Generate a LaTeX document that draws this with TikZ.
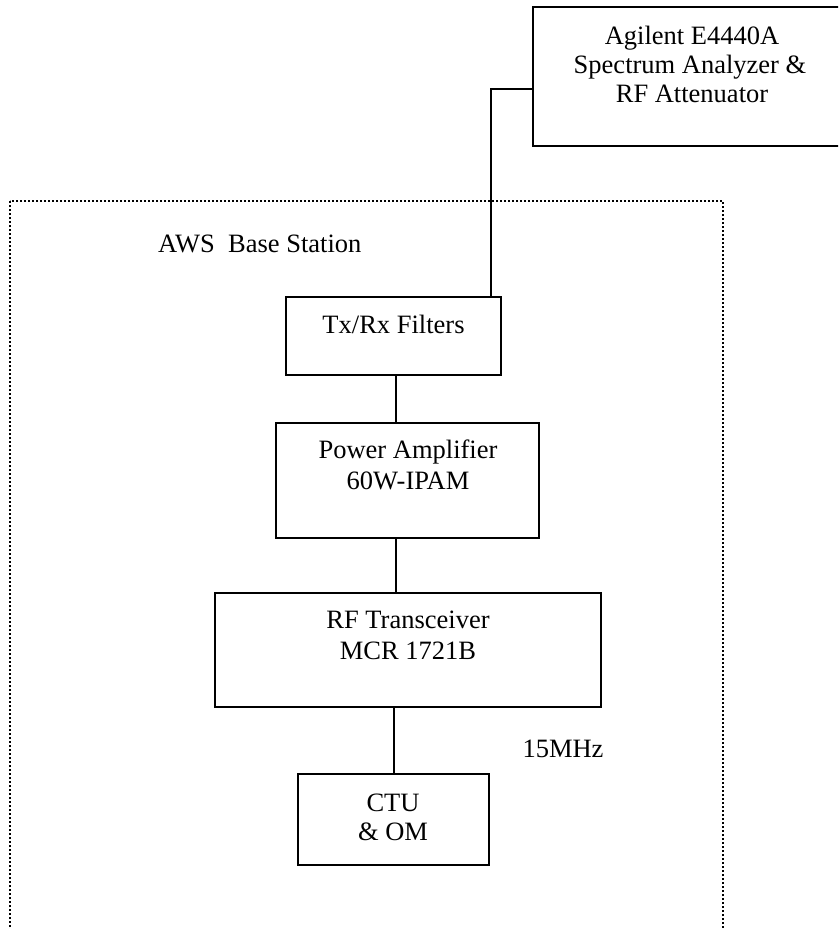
\documentclass[tikz,border=0pt]{standalone}
\usepackage{fontspec}
\setmainfont{Liberation Serif}
\begin{document}
\begin{tikzpicture}[x=1pt,y=-1pt,
  box/.style={draw, rectangle, inner sep=0pt, line width=1.8pt},
  wire/.style={line width=1.8pt},
  frame/.style={line width=1.6pt, dash pattern=on 1.6pt off 2.4pt},
  lbl/.style={inner sep=0pt, anchor=base, font=\fontsize{26.5}{30}\selectfont}]
  \useasboundingbox (0,0) rectangle (838,928);
  \clip (0,0) rectangle (838,928);

  % station outline
  \draw[frame] (10,201) rectangle (723,940);
  \node[lbl, anchor=base west] (aws) at (158,252) {AWS\ \ Base Station};

  % blocks
  \node[box, minimum width=318pt, minimum height=139pt] (ag) at (692,76.5) {};
  \node[box, minimum width=215pt, minimum height=78pt] (tx) at (393.5,336) {};
  \node[box, minimum width=263pt, minimum height=115pt] (pa) at (407.5,480.5) {};
  \node[box, minimum width=386pt, minimum height=114pt] (rf) at (408,650) {};
  \node[box, minimum width=191pt, minimum height=91pt] (ctu) at (393.5,819.5) {};

  % block texts
  \node[lbl] (ag1) at (692,45) {Agilent E4440A};
  \node[lbl] (ag2) at (690,74) {Spectrum Analyzer \&};
  \node[lbl] (ag3) at (692,103) {RF Attenuator};
  \node[lbl] (txt) at (393.5,333) {Tx/Rx Filters};
  \node[lbl] (pa1) at (408,458) {Power Amplifier};
  \node[lbl] (pa2) at (408,489) {60W-IPAM};
  \node[lbl] (rf1) at (408,628) {RF Transceiver};
  \node[lbl] (rf2) at (408,659) {MCR 1721B};
  \node[lbl] (ctu1) at (393,811) {CTU};
  \node[lbl] (ctu2) at (393,840) {\& OM};
  \node[lbl] (mhz) at (563,757) {15MHz};

  % connections
  \coordinate (bend) at (491,89);
  \draw[wire] (bend -| ag.west) -- (bend) -- (bend |- tx.north);
  \coordinate (c1) at (396,0);
  \draw[wire] (c1 |- tx.south) -- (c1 |- pa.north);
  \draw[wire] (c1 |- pa.south) -- (c1 |- rf.north);
  \coordinate (c2) at (394,0);
  \draw[wire] (c2 |- rf.south) -- (c2 |- ctu.north);
\end{tikzpicture}
\end{document}
